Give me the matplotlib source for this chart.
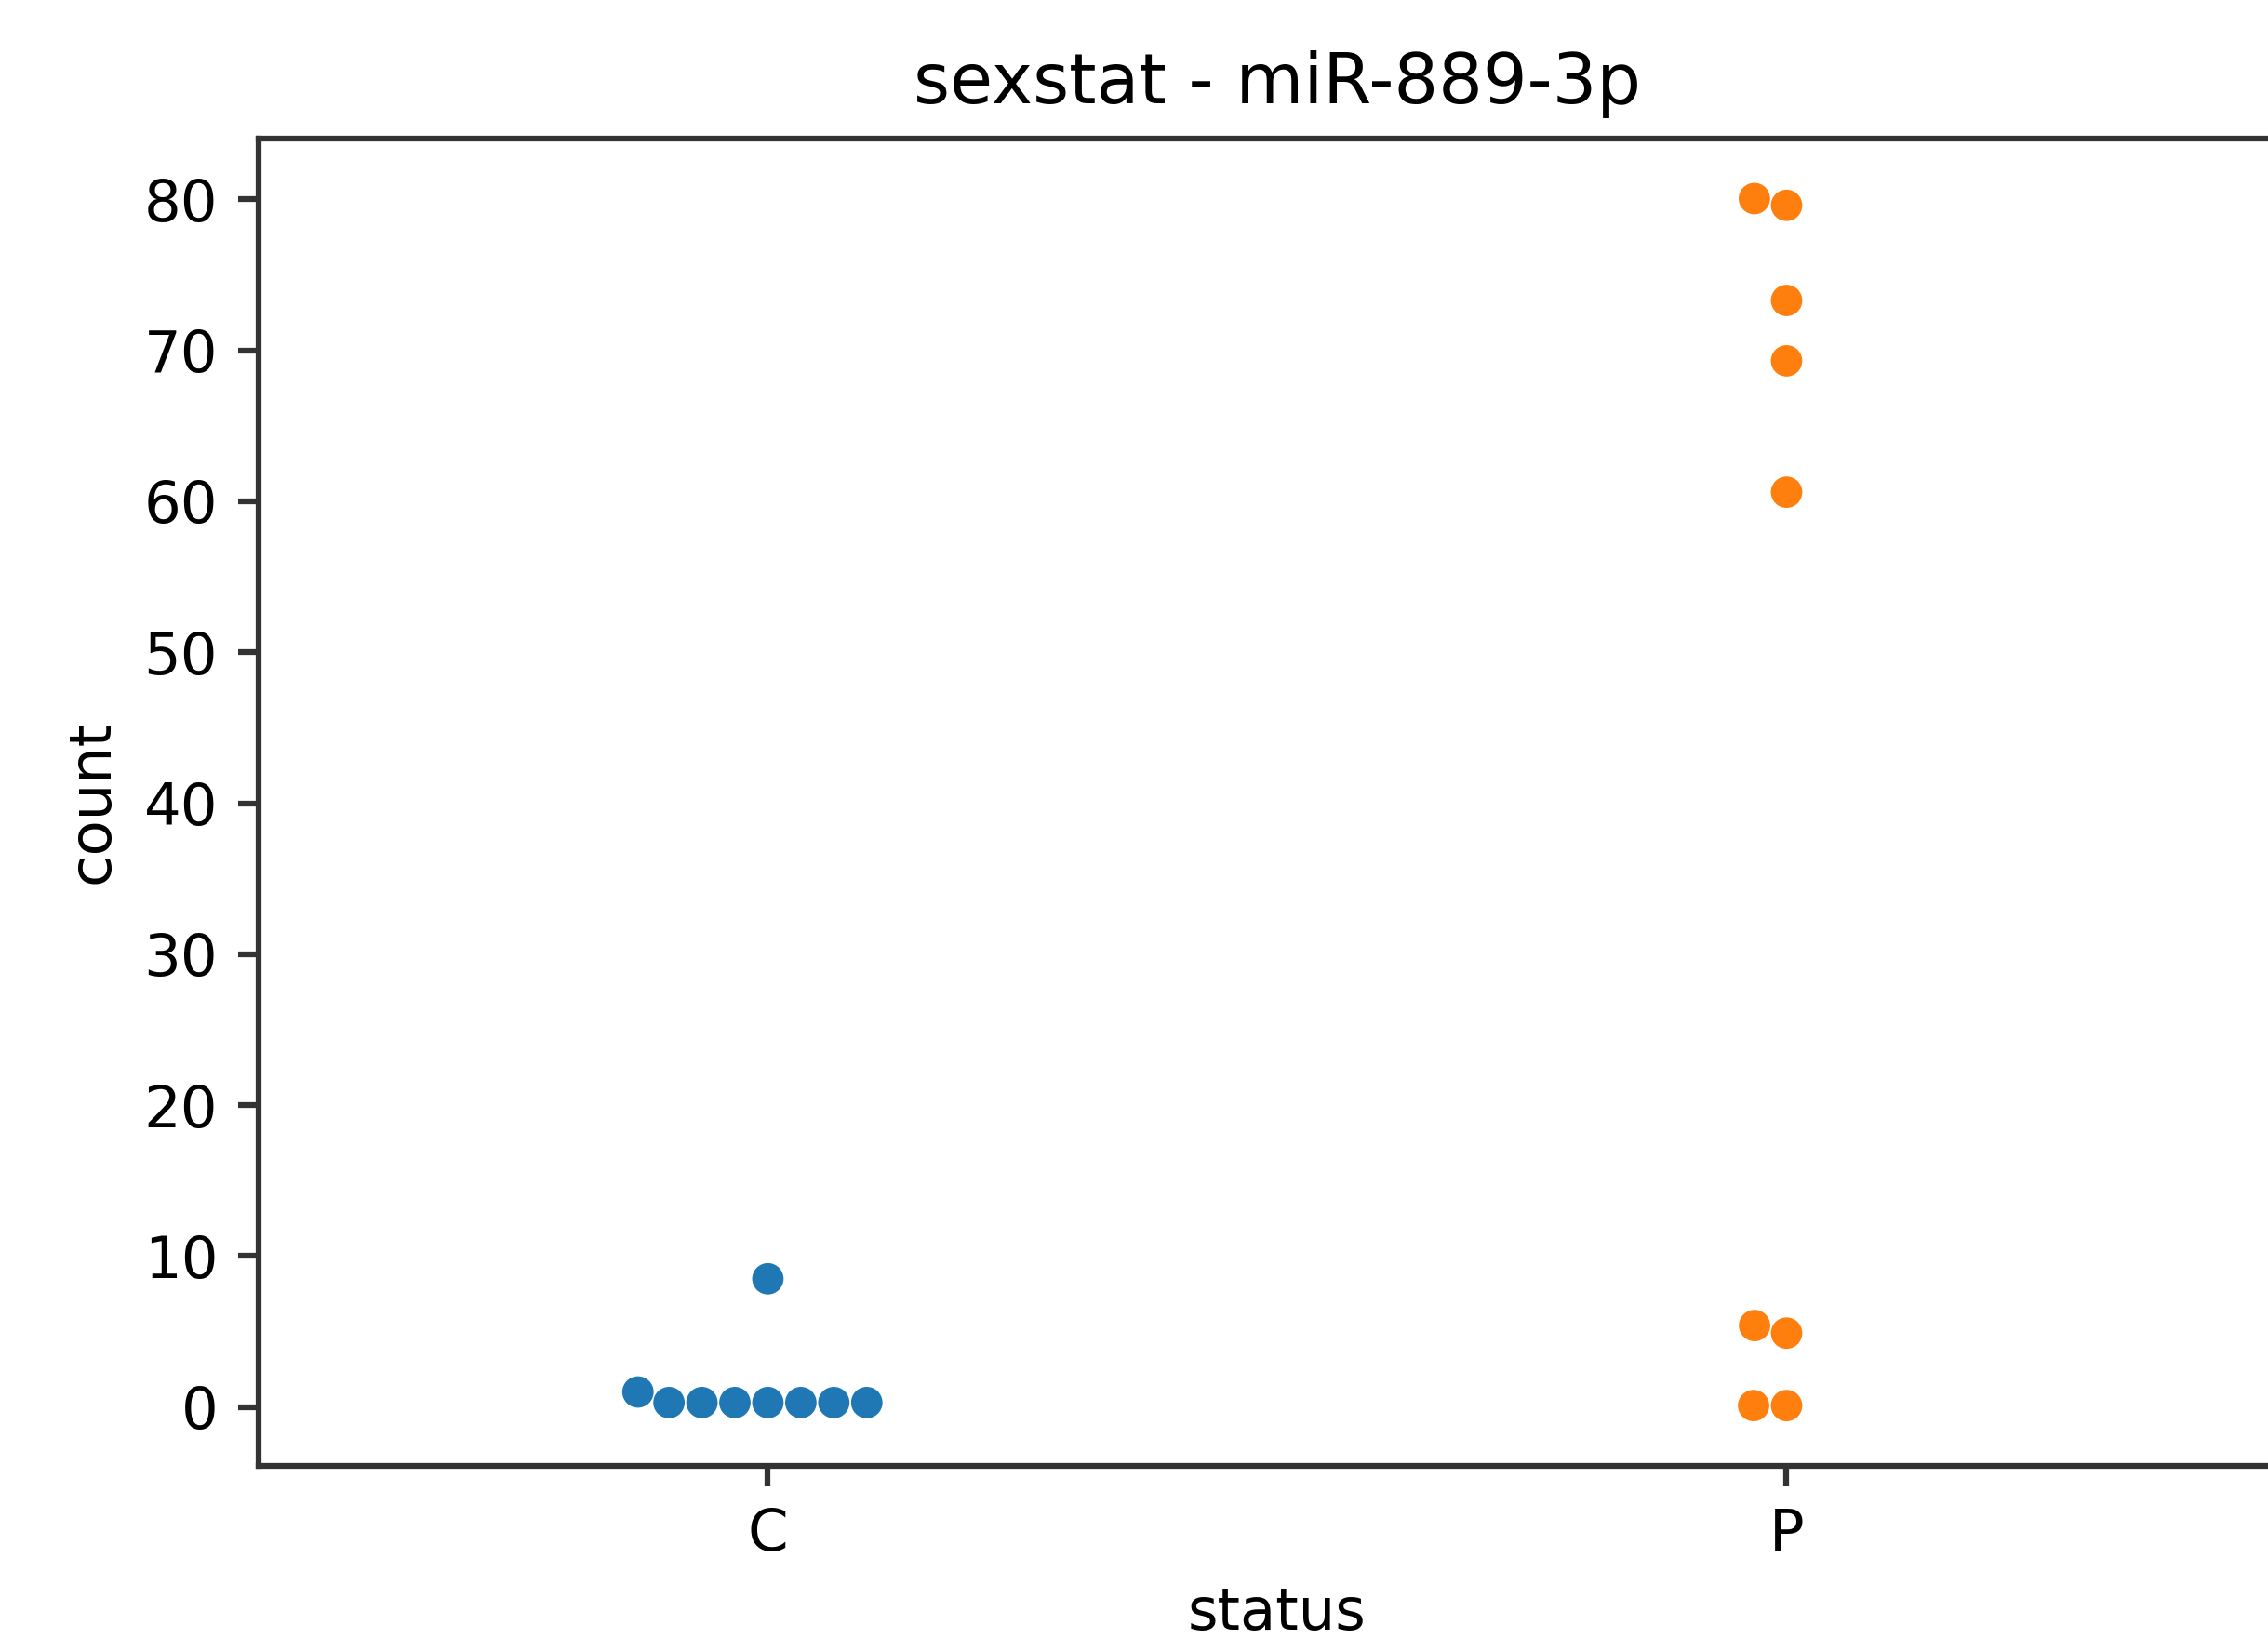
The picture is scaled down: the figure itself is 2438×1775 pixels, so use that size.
import matplotlib
matplotlib.use("Agg")
import matplotlib.pyplot as plt
import seaborn as sns
import pandas as pd

# 数据
status = ["C"] * 9 + ["P"] * 9
count = [0.3, 0.3, 0.3, 0.3, 0.3, 0.3, 0.3, 1.0, 8.5,
         0.1, 0.1, 4.9, 5.4, 60.6, 69.3, 73.3, 79.6, 80.05]
order = ["C", "P"]
palette = ["#1f77b4", "#ff7f0e"]

df = pd.DataFrame({"status": status, "count": count})

dpi = 450
fig = plt.figure(figsize=(2438 / dpi, 1775 / dpi), dpi=dpi)
ax = fig.add_axes([0.114, 0.1121, 0.8983, 0.8042])

sns.swarmplot(data=df, x="status", y="count", hue="status", order=order,
              hue_order=order, palette=palette, legend=False, size=5.4, ax=ax)

ax.set_title("sexstat - miR-889-3p")
ax.set_xlabel("status")
ax.set_ylabel("count")

# 边框颜色略浅
for sp in ax.spines.values():
    sp.set_color("#333333")
    sp.set_linewidth(1.0)
ax.tick_params(color="#333333", width=1.0)

fig.savefig("out.png", dpi=dpi)
